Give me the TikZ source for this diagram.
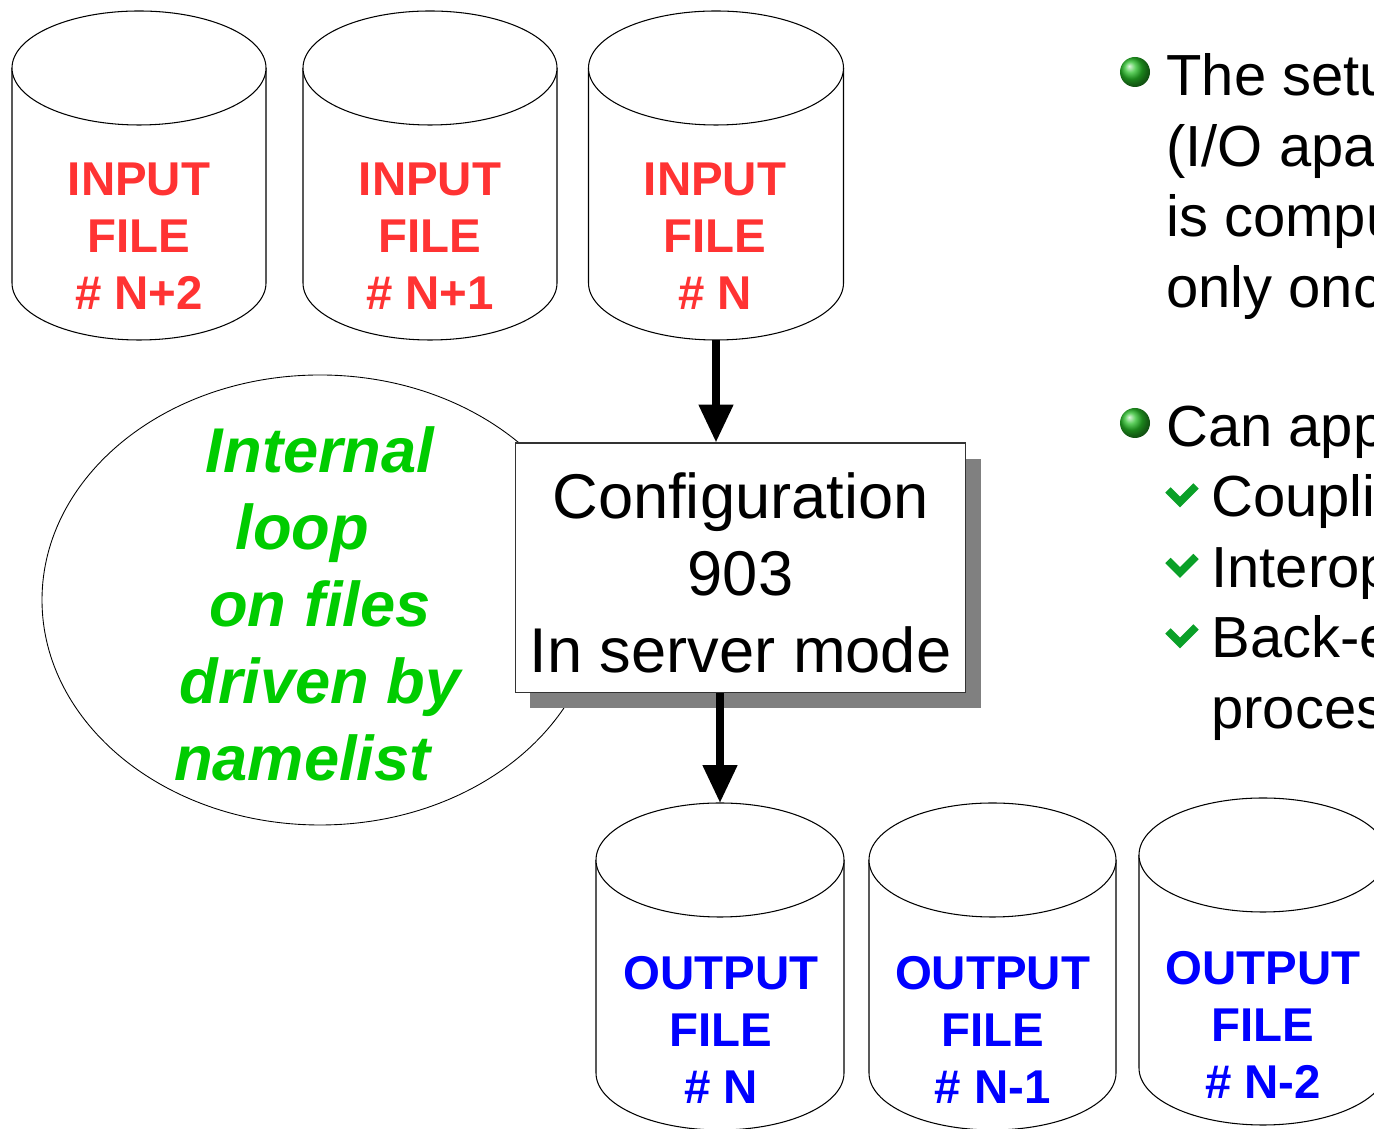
\documentclass[tikz,border=0pt]{standalone}
\usepackage{fontspec}
\setmainfont{Liberation Sans}
\usetikzlibrary{arrows.meta,shadows}

\definecolor{infile}{RGB}{255,51,51}
\definecolor{outfile}{RGB}{0,0,255}
\definecolor{loopgreen}{RGB}{0,204,0}
\definecolor{tickgreen}{RGB}{10,160,40}
\definecolor{ballgreen}{RGB}{40,190,40}

\tikzset{
  disk/.style={draw=black,line width=0.6pt,fill=white},
  intext/.style={align=center,text=infile,font=\bfseries\fontsize{27pt}{32.4pt}\selectfont},
  outtext/.style={align=center,text=outfile,font=\bfseries\fontsize{27pt}{32.4pt}\selectfont},
  cfgbox/.style={draw=black!80,line width=0.6pt,fill=white,minimum width=9.02cm,minimum height=5cm,
    inner sep=0pt,align=center,font=\fontsize{36pt}{43.8pt}\selectfont,
    drop shadow={shadow xshift=0.3cm,shadow yshift=-0.31cm,fill=black!50,opacity=1}},
  looptext/.style={align=center,text=loopgreen,font=\bfseries\itshape\fontsize{36pt}{43.8pt}\selectfont},
  flow/.style={line width=4.4pt,-{Triangle[width=18.8pt,length=21.6pt]}},
  bullettext/.style={anchor=base west,inner sep=0pt,font=\fontsize{33pt}{40pt}\selectfont},
}

% cylinder: centre x, top centre y, bottom centre y, x radius, name
\newcommand{\filedisk}[5]{%
  \draw[disk] (#1-#4,#2) -- (#1-#4,#3) arc[start angle=180,end angle=360,x radius=#4,y radius=57]
    -- (#1+#4,#2) arc[start angle=0,end angle=180,x radius=#4,y radius=57] -- cycle;
  \draw[disk] (#1-#4,#2) arc[start angle=180,end angle=360,x radius=#4,y radius=57];
  \coordinate (#5-top) at (#1,#2+57);
  \coordinate (#5-bot) at (#1,#3-57);
}

\begin{document}
\begin{tikzpicture}[x=0.02cm,y=0.02cm]
    \useasboundingbox (0,0) rectangle (1374,1129);
    \clip (0,0) rectangle (1374,1129);
    \fill[white] (0,0) rectangle (1374,1129);

    % input files
    \filedisk{139}{1061}{846}{127}{inNb}
    \filedisk{430}{1061}{846}{127}{inNa}
    \filedisk{716}{1061}{846}{127.5}{inN}
    \node[intext] (txtNb) at (139,893) {INPUT\\FILE\\\# N+2};
    \node[intext] (txtNa) at (430,893) {INPUT\\FILE\\\# N+1};
    \node[intext] (txtN) at (715,893) {INPUT\\FILE\\\# N};

    % output files
    \filedisk{720}{269}{56}{124}{outN}
    \filedisk{992.5}{269}{56}{123.5}{outNa}
    \filedisk{1263}{274}{61}{124}{outNb}
    \node[outtext] (otxtN) at (721,99) {OUTPUT\\FILE\\\# N};
    \node[outtext] (otxtNa) at (992.5,99) {OUTPUT\\FILE\\\# N-1};
    \node[outtext] (otxtNb) at (1263,104) {OUTPUT\\FILE\\\# N-2};

    % internal loop
    \draw[line width=0.5pt] (320,529) ellipse[x radius=278,y radius=225];
    \node[looptext] (loop) at (320,525) {Internal\\loop\rule{20pt}{0pt}\\on files\\driven by\\namelist\rule{20pt}{0pt}};

    % server
    \node[cfgbox] (cfg) at (740.5,561) {\rule{0pt}{32pt}Configuration\\903\\In server mode};
    \draw[flow] (inN-bot) -- (inN-bot |- cfg.north);
    \draw[flow] (cfg.south -| outN-top) -- (outN-top);

    % bullets
    \shade[ball color=ballgreen] (1135,1057) circle[radius=15];
    \shade[ball color=ballgreen] (1135,706) circle[radius=15];
    \foreach \t [count=\i] in {The setu,{(I/O apa},is compu,only onc}
        \node[bullettext] (setup-\i) at (1166,{1033-70.5*(\i-1)}) {\t};
    \node[bullettext] (apply) at (1166,682) {Can app};
    \foreach \t [count=\i] in {Coupli,Interop,Back-e,proces}
        \node[bullettext] (apply-\i) at (1211,{612-70.5*(\i-1)}) {\t};
    \foreach \dy in {0,70.5,141}
        \draw[tickgreen,line width=4.4pt] (1168,639-\dy) -- (1180,627-\dy) -- (1196,643-\dy);
\end{tikzpicture}
\end{document}
